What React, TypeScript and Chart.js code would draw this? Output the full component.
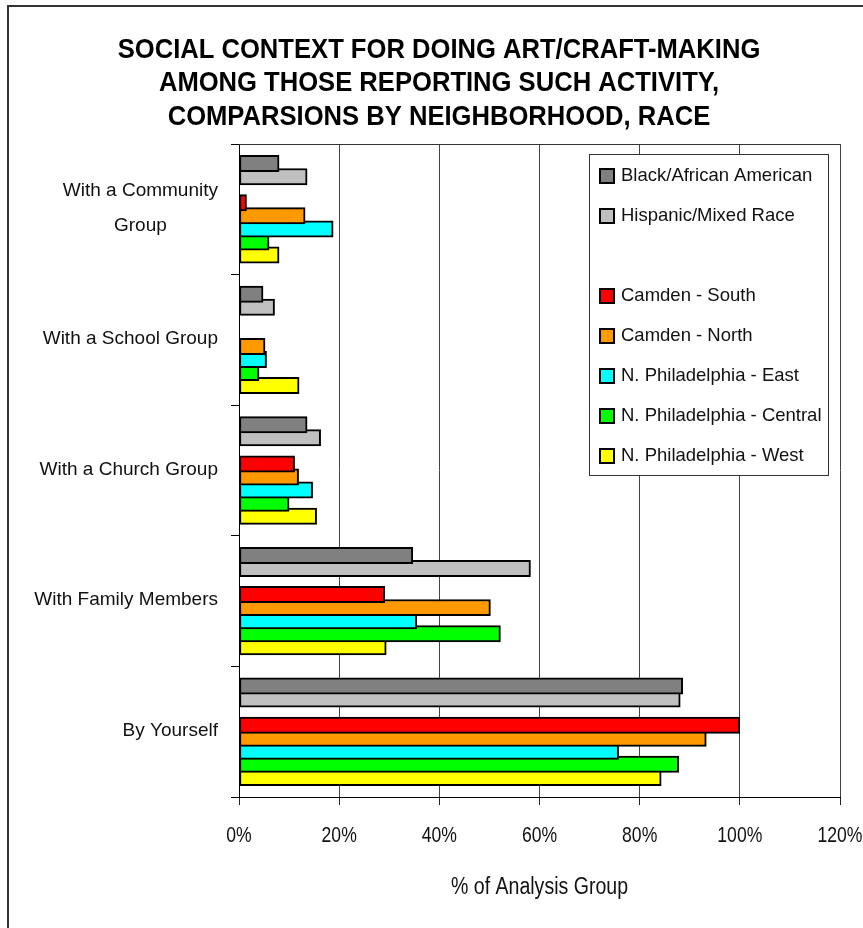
import React, { useEffect, useRef } from 'react';
import { Chart, registerables } from 'chart.js';

Chart.register(...registerables);

// ---- data ----
const categories: string[][] = [
  ['With a Community', 'Group'],
  ['With a School Group'],
  ['With a Church Group'],
  ['With Family Members'],
  ['By Yourself'],
];
const titleLines = [
  'SOCIAL CONTEXT FOR DOING ART/CRAFT-MAKING',
  'AMONG THOSE REPORTING SUCH ACTIVITY,',
  'COMPARSIONS BY NEIGHBORHOOD, RACE',
];
const xAxisTitle = '% of Analysis Group';
const xMin = 0;
const xMax = 120;
const xStep = 20;

const seriesLabels = [
  'Black/African American',
  'Hispanic/Mixed Race',
  '',
  'Camden - South',
  'Camden - North',
  'N. Philadelphia - East',
  'N. Philadelphia - Central',
  'N. Philadelphia - West',
];
const seriesColors = ['#808080', '#C0C0C0', '#FFFFFF', '#FF0000', '#FF9900', '#00FFFF', '#00FF00', '#FFFF00'];

const blackAfricanAmerican = [8.0, 4.8, 13.6, 34.7, 88.6];
const hispanicMixedRace = [13.6, 7.1, 16.3, 58.2, 88.1];
const spacer: (number | null)[] = [null, null, null, null, null];
const camdenSouth: (number | null)[] = [1.5, null, 11.1, 29.1, 100];
const camdenNorth = [13.2, 5.2, 11.9, 50.2, 93.3];
const nPhilaEast = [18.8, 5.5, 14.7, 35.5, 75.8];
const nPhilaCentral = [6.0, 4.0, 10.0, 52.2, 87.8];
const nPhilaWest = [8.0, 12.0, 15.5, 29.4, 84.3];

const seriesValues = [
  blackAfricanAmerican,
  hispanicMixedRace,
  spacer,
  camdenSouth,
  camdenNorth,
  nPhilaEast,
  nPhilaCentral,
  nPhilaWest,
];

const FAMILY = '"Liberation Sans", Arial, sans-serif';

function drawText(
  ctx: CanvasRenderingContext2D,
  s: string,
  x: number,
  y: number,
  size: number,
  align: CanvasTextAlign,
  bold = false,
  scaleX = 1,
  color = '#000'
) {
  ctx.save();
  ctx.translate(x, y);
  ctx.scale(scaleX, 1);
  ctx.font = `${bold ? 'bold ' : ''}${size}px ${FAMILY}`;
  ctx.textAlign = align;
  ctx.textBaseline = 'alphabetic';
  ctx.fillStyle = color;
  ctx.fillText(s, 0, 0);
  ctx.restore();
}

const decorPlugin = {
  id: 'decor',
  beforeDatasetsDraw(chart: any) {
    const ctx = chart.ctx as CanvasRenderingContext2D;
    const a = chart.chartArea;
    ctx.save();
    ctx.strokeStyle = '#333';
    ctx.lineWidth = 1;
    ctx.beginPath();
    ctx.moveTo(a.left, Math.round(a.top) + 0.5);
    ctx.lineTo(a.right + 0.5, Math.round(a.top) + 0.5);
    ctx.stroke();
    ctx.restore();
  },
  afterDraw(chart: any) {
    const ctx = chart.ctx as CanvasRenderingContext2D;
    const a = chart.chartArea;
    const xs = chart.scales.x;
    const ys = chart.scales.y;

    // outer frame (left and top edges visible)
    ctx.save();
    ctx.strokeStyle = '#333';
    ctx.lineWidth = 2;
    ctx.beginPath();
    ctx.moveTo(8, 960);
    ctx.lineTo(8, 6);
    ctx.lineTo(900, 6);
    ctx.stroke();
    ctx.restore();

    // title
    const titleBase = [58, 91, 124.5];
    titleLines.forEach((t, i) => drawText(ctx, t, 439, titleBase[i], 28, 'center', true, 0.914, '#000'));

    // y category labels
    const ySize = 19;
    categories.forEach((lines, i) => {
      const c = ys.getPixelForValue(i);
      if (lines.length === 1) {
        drawText(ctx, lines[0], 218, c + 4, ySize, 'right', false, 1, '#111');
      } else {
        ctx.save();
        ctx.font = `${ySize}px ${FAMILY}`;
        const w = Math.max(...lines.map((l) => ctx.measureText(l).width));
        ctx.restore();
        const cx = 218 - w / 2;
        lines.forEach((l, j) => drawText(ctx, l, cx, c - 13 + j * 35, ySize, 'center', false, 1, '#111'));
      }
    });

    // x tick labels
    xs.ticks.forEach((t: any) => {
      const px = xs.getPixelForValue(t.value);
      drawText(ctx, `${t.value}%`, px, a.bottom + 45, 22, 'center', false, 0.8, '#111');
    });

    // x axis title
    drawText(ctx, xAxisTitle, (a.left + a.right) / 2, a.bottom + 97, 23, 'center', false, 0.85, '#111');

    // legend
    ctx.save();
    ctx.fillStyle = '#fff';
    ctx.fillRect(589.5, 154.5, 239, 321);
    ctx.strokeStyle = '#333';
    ctx.lineWidth = 1;
    ctx.strokeRect(589.5, 154.5, 239, 321);
    ctx.restore();
    seriesLabels.forEach((lab, i) => {
      if (!lab) return;
      const base = 181 + i * 40;
      ctx.save();
      ctx.fillStyle = seriesColors[i];
      ctx.fillRect(600, base - 12, 14, 14);
      ctx.strokeStyle = '#000';
      ctx.lineWidth = 2;
      ctx.strokeRect(600, base - 12, 14, 14);
      ctx.restore();
      drawText(ctx, lab, 621, base, 18.5, 'left', false, 1, '#111');
    });
  },
};

export default function App() {
  const ref = useRef<HTMLCanvasElement | null>(null);

  useEffect(() => {
    if (!ref.current) return;
    const datasets = seriesValues.map((vals, i) => ({
      label: seriesLabels[i],
      data: vals,
      backgroundColor: seriesColors[i],
      borderColor: '#000',
      borderWidth: 2,
      borderSkipped: false as const,
      categoryPercentage: 0.8,
      barPercentage: 1.25,
    }));
    const chart = new Chart(ref.current, {
      type: 'bar',
      data: { labels: categories.map((c) => c.join(' ')), datasets },
      options: {
        indexAxis: 'y',
        animation: false,
        responsive: false,
        devicePixelRatio: 1,
        layout: { padding: { top: 144, right: 23, left: 0, bottom: 0 } },
        plugins: {
          legend: { display: false },
          title: { display: false },
          tooltip: { enabled: false },
        },
        scales: {
          x: {
            type: 'linear',
            min: xMin,
            max: xMax,
            ticks: { stepSize: xStep, display: false },
            grid: { color: '#444', tickColor: '#222', tickLength: 8, drawTicks: true, lineWidth: 1 },
            border: { color: '#000', width: 1 },
            afterFit: (s: any) => {
              s.height = 131;
            },
          },
          y: {
            type: 'category',
            ticks: { display: false },
            grid: { offset: true, drawOnChartArea: false, drawTicks: true, tickLength: 8, color: '#000' },
            border: { color: '#000', width: 1 },
            afterFit: (s: any) => {
              s.width = 239;
            },
          },
        },
      } as any,
      plugins: [decorPlugin],
    });
    return () => chart.destroy();
  }, []);

  return (
    <div style={{ position: 'absolute', left: 0, top: 0, width: 863, height: 928, background: '#fff', overflow: 'hidden' }}>
      <canvas ref={ref} width={863} height={928} style={{ display: 'block', width: 863, height: 928 }} />
    </div>
  );
}
